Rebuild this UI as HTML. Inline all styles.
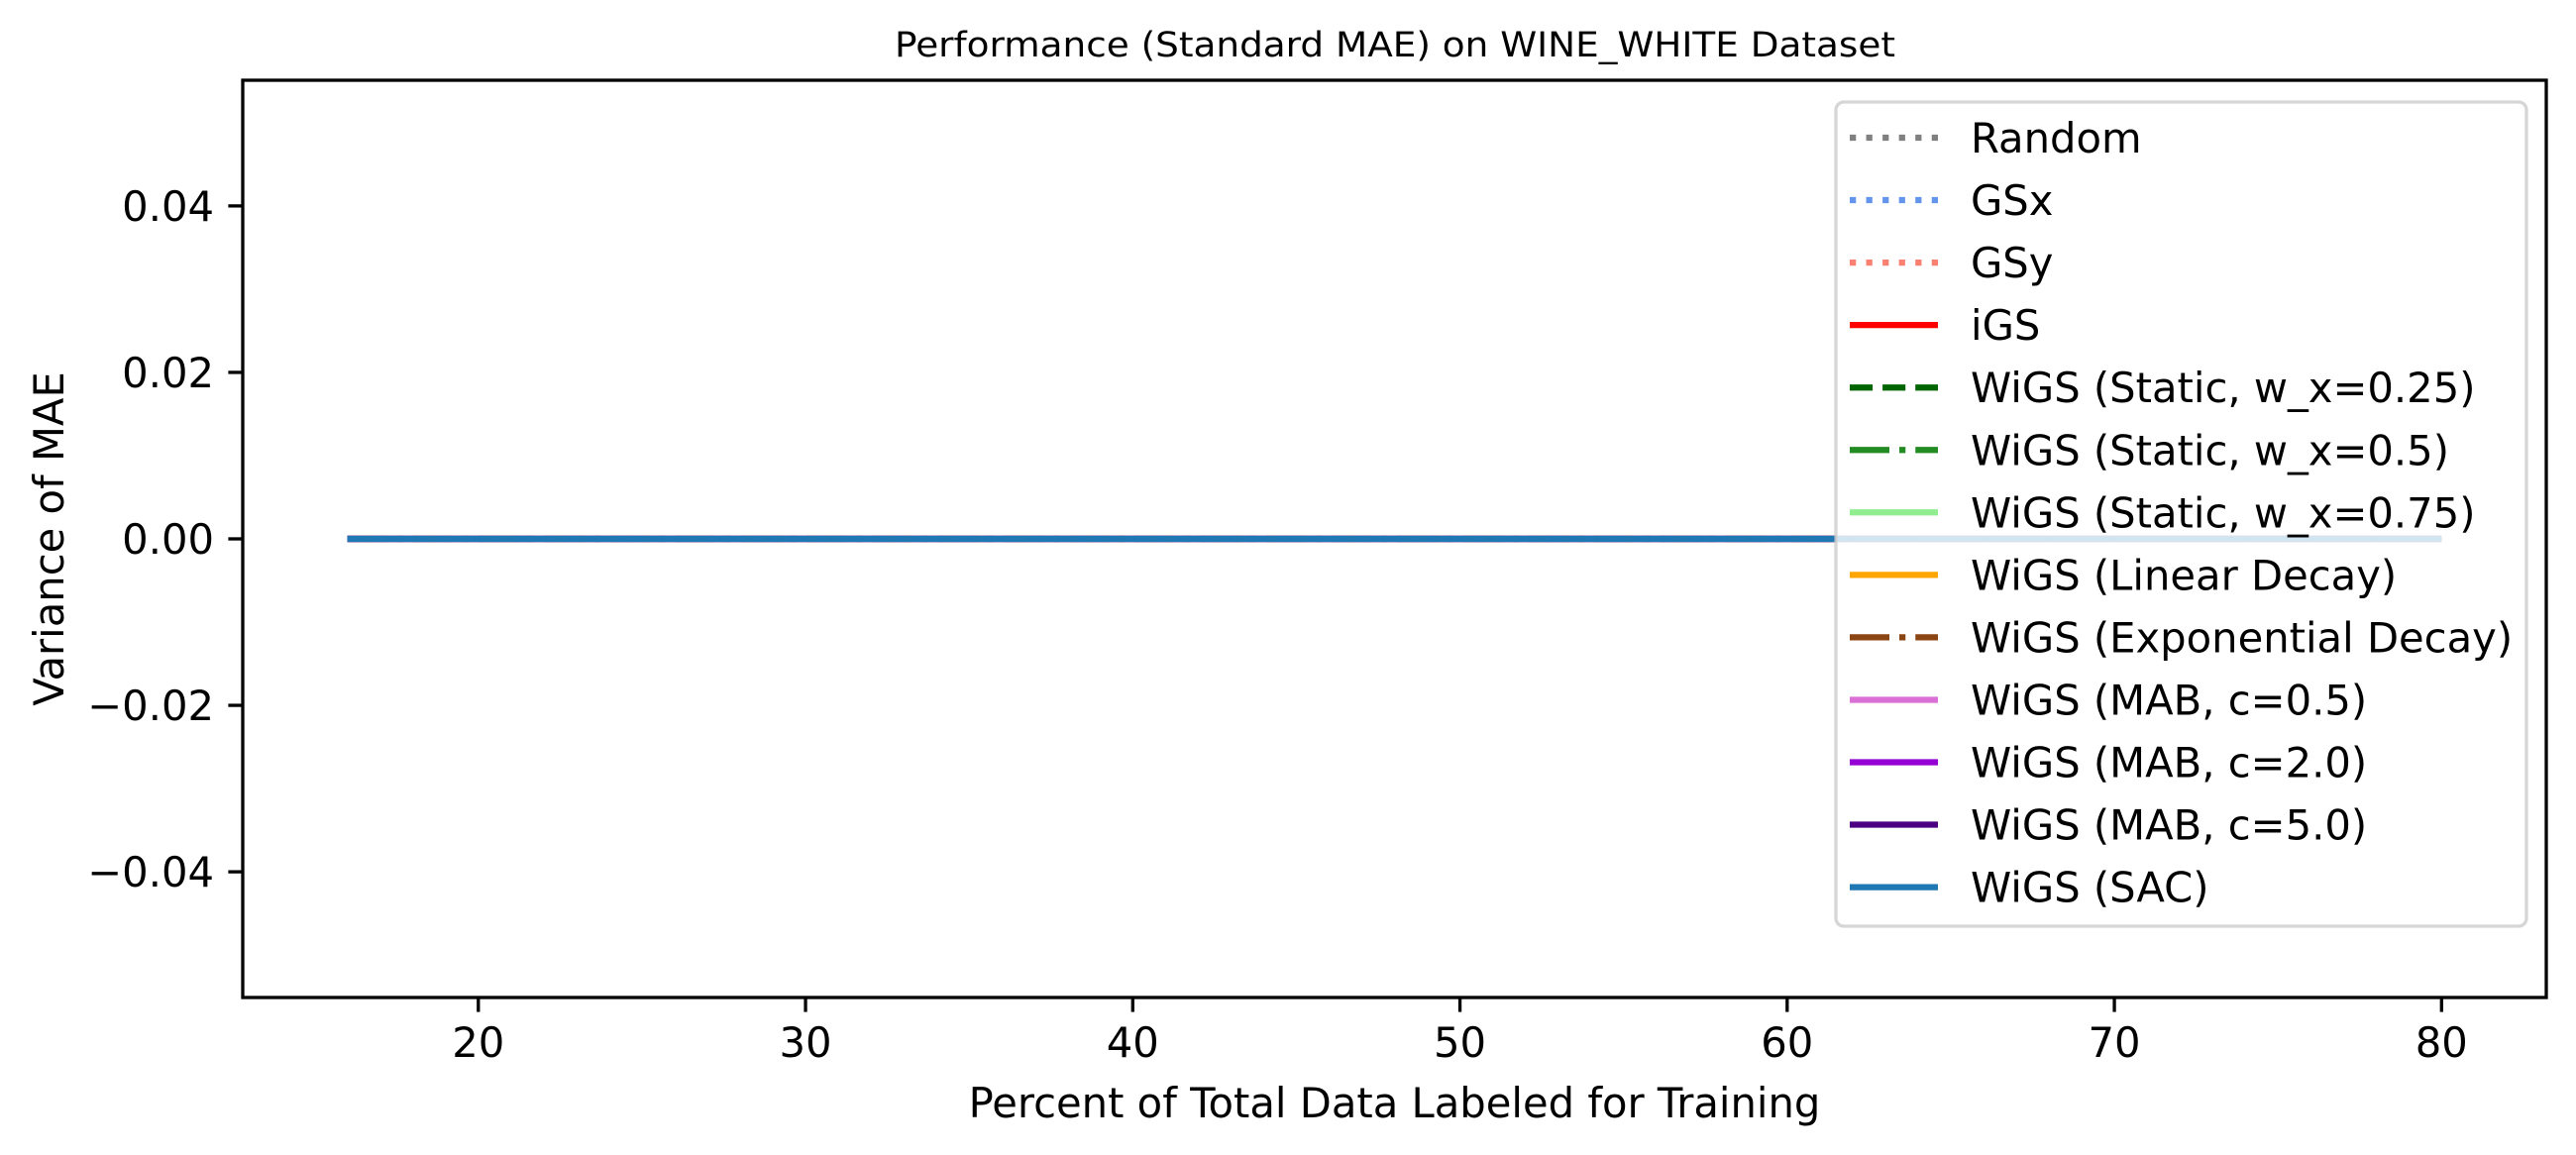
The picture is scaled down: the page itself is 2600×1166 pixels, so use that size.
<!DOCTYPE html>
<html><head><meta charset="utf-8"><title>Performance (Standard MAE) on WINE_WHITE Dataset</title>
<style>html,body{margin:0;padding:0;background:#fff;}svg{display:block;font-family:"DejaVu Sans","Liberation Sans",sans-serif;}</style>
</head><body>
<svg id="chart" width="2600" height="1166" viewBox="0 0 2600 1166" xmlns="http://www.w3.org/2000/svg">
<rect x="0" y="0" width="2600" height="1166" fill="#fff"/>
<text x="1408" y="57" font-size="34.7" text-anchor="middle" textLength="1010" lengthAdjust="spacingAndGlyphs">Performance (Standard MAE) on WINE_WHITE Dataset</text>
<g id="plot"></g>
<g id="axes"></g>
<g id="legend"></g>
</svg>
<script>
const xValues = [16, 20, 24, 28, 32, 36, 40, 44, 48, 52, 56, 60, 64, 68, 72, 76, 80];
const seriesNames = ["Random","GSx","GSy","iGS","WiGS (Static, w_x=0.25)","WiGS (Static, w_x=0.5)","WiGS (Static, w_x=0.75)","WiGS (Linear Decay)","WiGS (Exponential Decay)","WiGS (MAB, c=0.5)","WiGS (MAB, c=2.0)","WiGS (MAB, c=5.0)","WiGS (SAC)"];
const randomVals = [0,0,0,0,0,0,0,0,0,0,0,0,0,0,0,0,0];
const gsxVals = [0,0,0,0,0,0,0,0,0,0,0,0,0,0,0,0,0];
const gsyVals = [0,0,0,0,0,0,0,0,0,0,0,0,0,0,0,0,0];
const igsVals = [0,0,0,0,0,0,0,0,0,0,0,0,0,0,0,0,0];
const static25Vals = [0,0,0,0,0,0,0,0,0,0,0,0,0,0,0,0,0];
const static50Vals = [0,0,0,0,0,0,0,0,0,0,0,0,0,0,0,0,0];
const static75Vals = [0,0,0,0,0,0,0,0,0,0,0,0,0,0,0,0,0];
const linearVals = [0,0,0,0,0,0,0,0,0,0,0,0,0,0,0,0,0];
const expVals = [0,0,0,0,0,0,0,0,0,0,0,0,0,0,0,0,0];
const mab05Vals = [0,0,0,0,0,0,0,0,0,0,0,0,0,0,0,0,0];
const mab2Vals = [0,0,0,0,0,0,0,0,0,0,0,0,0,0,0,0,0];
const mab5Vals = [0,0,0,0,0,0,0,0,0,0,0,0,0,0,0,0,0];
const sacVals = [0,0,0,0,0,0,0,0,0,0,0,0,0,0,0,0,0];
const xTicks = [20, 30, 40, 50, 60, 70, 80];
const xTickLabels = ["20","30","40","50","60","70","80"];
const yTicks = [-0.04, -0.02, 0, 0.02, 0.04];
const yTickLabels = ["\u22120.04","\u22120.02","0.00","0.02","0.04"];

const NS = "http://www.w3.org/2000/svg";
const L = 245, R = 2570, T = 81, B = 1007;
const xMin = 12.8, xMax = 83.2, yMin = -0.0551, yMax = 0.0551;
function xs(v){ return L + (v - xMin) / (xMax - xMin) * (R - L); }
function ys(v){ return B - (v - yMin) / (yMax - yMin) * (B - T); }
function mk(tag, attrs, parent){ const e = document.createElementNS(NS, tag); for (const k in attrs) e.setAttribute(k, attrs[k]); parent.appendChild(e); return e; }

const lw = 6.25;
const styles = [
  {c:"#808080", d:"6.25 10.3"},
  {c:"#6495ed", d:"6.25 10.3"},
  {c:"#fa8072", d:"6.25 10.3"},
  {c:"#ff0000", d:""},
  {c:"#006400", d:"23.1 10"},
  {c:"#228b22", d:"40 10 6.25 10"},
  {c:"#90ee90", d:""},
  {c:"#ffa500", d:""},
  {c:"#8b4513", d:"40 10 6.25 10"},
  {c:"#da70d6", d:""},
  {c:"#9400d3", d:""},
  {c:"#4b0082", d:""},
  {c:"#1f77b4", d:""}
];
const allVals = [randomVals,gsxVals,gsyVals,igsVals,static25Vals,static50Vals,static75Vals,linearVals,expVals,mab05Vals,mab2Vals,mab5Vals,sacVals];

const plot = document.getElementById('plot');
allVals.forEach((vals, i) => {
  const pts = xValues.map((x, j) => xs(x).toFixed(2) + "," + ys(vals[j]).toFixed(2)).join(" ");
  const p = mk('polyline', {points: pts, fill: "none", stroke: styles[i].c, "stroke-width": lw}, plot);
  if (styles[i].d) p.setAttribute('stroke-dasharray', styles[i].d);
  
  
});

const axes = document.getElementById('axes');
const frame = mk('rect', {x: L, y: T, width: R - L, height: B - T, fill: "none", stroke: "#000", "stroke-width": 3.3}, axes);


xTicks.forEach((v, i) => {
  const x = xs(v);
  const t = mk('line', {x1: x, y1: B, x2: x, y2: B + 14.6, stroke: "#000", "stroke-width": 3.3}, axes);
  
  
  const lb = mk('text', {x: x, y: B + 60, "font-size": 41.7, "text-anchor": "middle"}, axes);
  lb.textContent = xTickLabels[i];
  
  
});
yTicks.forEach((v, i) => {
  const y = ys(v);
  const t = mk('line', {x1: L - 14.6, y1: y, x2: L, y2: y, stroke: "#000", "stroke-width": 3.3}, axes);
  
  
  const lb = mk('text', {x: L - 29, y: y + 15, "font-size": 41.7, "text-anchor": "end"}, axes);
  lb.textContent = yTickLabels[i];
  
  
});
const xl = mk('text', {x: (L + R) / 2, y: 1128, "font-size": 41.7, "text-anchor": "middle"}, axes);
xl.textContent = "Percent of Total Data Labeled for Training";


const yl = mk('text', {x: 0, y: 0, "font-size": 41.7, "text-anchor": "middle", transform: "translate(64," + ((T + B) / 2) + ") rotate(-90)"}, axes);
yl.textContent = "Variance of MAE";



const leg = document.getElementById('legend');
const box = mk('rect', {x: 1853, y: 103, width: 697, height: 832, rx: 8, ry: 8, fill: "rgba(255,255,255,0.8)", stroke: "rgba(204,204,204,0.8)", "stroke-width": 3.3}, leg);


seriesNames.forEach((name, i) => {
  const cy = 139 + i * 63.05;
  const g = mk('g', {}, leg);
  
  
  const h = mk('line', {x1: 1867, y1: cy, x2: 1956, y2: cy, stroke: styles[i].c, "stroke-width": lw}, g);
  if (styles[i].d) h.setAttribute('stroke-dasharray', styles[i].d);
  
  
  const tx = mk('text', {x: 1989, y: cy + 15, "font-size": 41.7}, g);
  tx.textContent = name;
  
  
});
</script>
</body></html>
